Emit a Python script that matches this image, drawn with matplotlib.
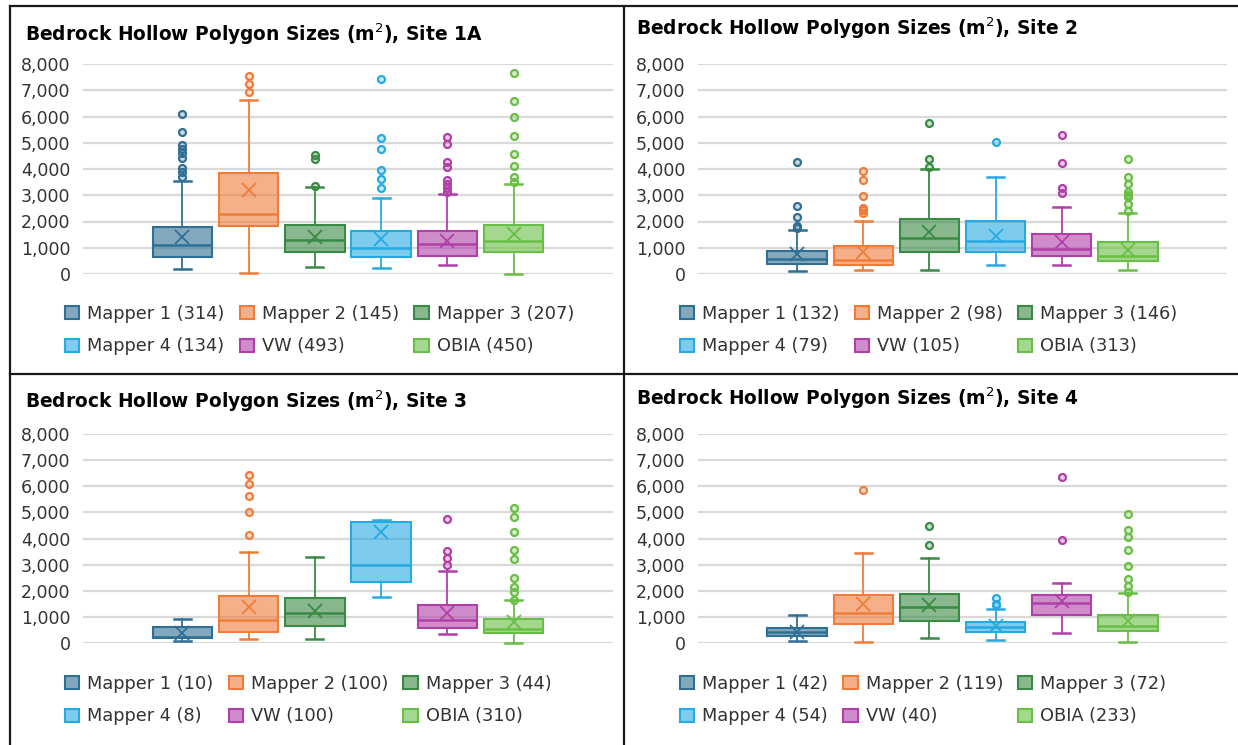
import matplotlib
matplotlib.use("Agg")
import matplotlib.pyplot as plt
from matplotlib.colors import to_rgba
from matplotlib.lines import Line2D
from matplotlib.patches import Patch
from matplotlib.ticker import FuncFormatter

# box stats per group: [whisker low, q1, median, q3, whisker high]
groups = ["Mapper 1", "Mapper 2", "Mapper 3", "Mapper 4", "VW", "OBIA"]
edge_colors = ["#2F6F94", "#F07C3A", "#3A8A45", "#26AAE1", "#B040A8", "#69BE45"]

s1a_box = [[200, 630, 1100, 1800, 3550], [50, 1820, 2300, 3850, 6630],
           [250, 830, 1280, 1850, 3330], [220, 650, 1000, 1630, 2890],
           [360, 690, 1130, 1630, 3040], [0, 830, 1250, 1850, 3430]]
s1a_mean = [1400, 3200, 1410, 1320, 1270, 1510]
s1a_out = [[6100, 5420, 4910, 4760, 4600, 4430, 4030, 3870, 3710],
           [7550, 7230, 6920],
           [4530, 4370, 3370],
           [7420, 5170, 4750, 3960, 3620, 3290],
           [5230, 4940, 4280, 4070, 3580, 3430, 3280, 3140],
           [7650, 6580, 5990, 5260, 4580, 4100, 3680, 3500]]
s1a_n = [314, 145, 207, 134, 493, 450]

s2_box = [[115, 395, 560, 890, 1680], [165, 355, 545, 1070, 2020],
          [165, 830, 1390, 2100, 4010], [355, 830, 1250, 2010, 3710],
          [355, 700, 950, 1510, 2540], [165, 510, 700, 1210, 2320]]
s2_mean = [760, 830, 1590, 1460, 1220, 915]
s2_out = [[4250, 2600, 2160, 1830, 1770],
          [3920, 3580, 2990, 2520, 2420, 2320],
          [5760, 4400, 4070],
          [5020],
          [5280, 4210, 3290, 3100],
          [4400, 3710, 3420, 3140, 3020, 2950, 2650, 2390]]
s2_n = [132, 98, 146, 79, 105, 313]

s3_box = [[90, 190, 230, 620, 920], [140, 430, 880, 1800, 3500],
          [140, 660, 1130, 1710, 3300], [1760, 2330, 2980, 4640, 4690],
          [330, 560, 870, 1450, 2760], [0, 370, 535, 905, 1640]]
s3_mean = [395, 1360, 1210, 4230, 1160, 800]
s3_out = [[],
          [6420, 6100, 5620, 5030, 4140],
          [],
          [],
          [4730, 3530, 3260, 2970],
          [5170, 4830, 4240, 3550, 3220, 2500, 2150, 1960, 1660]]
s3_n = [10, 100, 44, 8, 100, 310]

s4_box = [[90, 280, 430, 570, 1070], [50, 740, 1160, 1850, 3460],
          [190, 850, 1360, 1890, 3270], [130, 420, 610, 815, 1310],
          [395, 1070, 1540, 1850, 2280], [50, 470, 660, 1070, 1900]]
s4_mean = [430, 1490, 1440, 660, 1620, 855]
s4_out = [[],
          [5850],
          [4480, 3760],
          [1710, 1500, 1450],
          [6340, 3950],
          [4930, 4320, 4040, 3570, 2930, 2450, 2190, 1960]]
s4_n = [42, 119, 72, 54, 40, 233]

W, H = 1238, 745
fig = plt.figure(figsize=(W / 100, H / 100), dpi=100)

FS = 12.5
LEG_FS = 12.8
TXT = "#333333"


def px_rect(left, top, right, bottom):
    return [left / W, 1 - bottom / H, (right - left) / W, (bottom - top) / H]


def draw_site(rect, title, title_xy, legend_xy, box, means, outs, counts):
    ax = fig.add_axes(px_rect(*rect))
    for i, (b, m, o, c) in enumerate(zip(box, means, outs, edge_colors)):
        st = dict(whislo=b[0], q1=b[1], med=b[2], q3=b[3], whishi=b[4],
                  mean=m, fliers=o)
        face = to_rgba(c, 0.6)
        art = ax.bxp([st], positions=[i + 1], widths=0.9, capwidths=0.26,
                     showmeans=True, patch_artist=True,
                     boxprops=dict(facecolor=face, edgecolor=c, linewidth=1.5),
                     medianprops=dict(color=c, linewidth=1.8),
                     whiskerprops=dict(color=c, linewidth=1.3),
                     capprops=dict(color=c, linewidth=1.8),
                     meanprops=dict(marker="x", markeredgecolor=c,
                                    markersize=10, markeredgewidth=1.3),
                     flierprops=dict(marker="o", markeredgecolor=c,
                                     markerfacecolor=to_rgba(c, 0.25),
                                     markersize=5, markeredgewidth=1.6))
        for items in art.values():
            for a in items:
                a.set_clip_on(False)
    ax.set_xlim(-0.5, 7.5)
    ax.set_ylim(0, 8000)
    ax.set_yticks(range(0, 8001, 1000))
    ax.yaxis.set_major_formatter(FuncFormatter(lambda v, p: f"{int(v):,}"))
    ax.set_xticks([])
    ax.tick_params(axis="y", length=0, pad=9, labelsize=FS, labelcolor=TXT)
    ax.grid(axis="y", color="#D9D9D9", linewidth=1.6)
    ax.set_axisbelow(True)
    for s in ax.spines.values():
        s.set_visible(False)

    fig.text(title_xy[0] / W, 1 - title_xy[1] / H, title, fontsize=13.4,
             fontweight="bold", color="black", va="center", ha="left")

    handles = [Patch(facecolor=to_rgba(c, 0.6), edgecolor=c, linewidth=1.5)
               for c in edge_colors]
    labels = [f"{g} ({n})" for g, n in zip(groups, counts)]
    order = [0, 3, 1, 4, 2, 5]
    fig.legend([handles[k] for k in order], [labels[k] for k in order],
               ncol=3, loc="upper left",
               bbox_to_anchor=(legend_xy[0] / W, 1 - legend_xy[1] / H),
               frameon=False, fontsize=LEG_FS, borderpad=0, borderaxespad=0,
               handlelength=0.8, handleheight=0.75, handletextpad=0.45,
               labelspacing=0.8, columnspacing=0.85, labelcolor=TXT)
    return ax


title_base = "Bedrock Hollow Polygon Sizes (m$^2$), Site "
draw_site((83, 64, 613, 274), title_base + "1A", (25, 34), (65, 305),
          s1a_box, s1a_mean, s1a_out, s1a_n)
draw_site((698, 64, 1227, 274), title_base + "2", (636, 28), (680, 305),
          s2_box, s2_mean, s2_out, s2_n)
draw_site((83, 434, 613, 643), title_base + "3", (25, 401), (65, 675),
          s3_box, s3_mean, s3_out, s3_n)
draw_site((698, 434, 1227, 643), title_base + "4", (636, 398), (680, 675),
          s4_box, s4_mean, s4_out, s4_n)

# panel frame lines
frame = dict(color="#1a1a1a", linewidth=1.6, transform=fig.transFigure)
fig.add_artist(Line2D([10 / W, 10 / W], [0, 1 - 6 / H], **frame))
fig.add_artist(Line2D([10 / W, 1], [1 - 6 / H, 1 - 6 / H], **frame))
fig.add_artist(Line2D([624 / W, 624 / W], [0, 1 - 6 / H], **frame))
fig.add_artist(Line2D([10 / W, 1], [1 - 374 / H, 1 - 374 / H], **frame))

fig.savefig("out.png", dpi=100)
